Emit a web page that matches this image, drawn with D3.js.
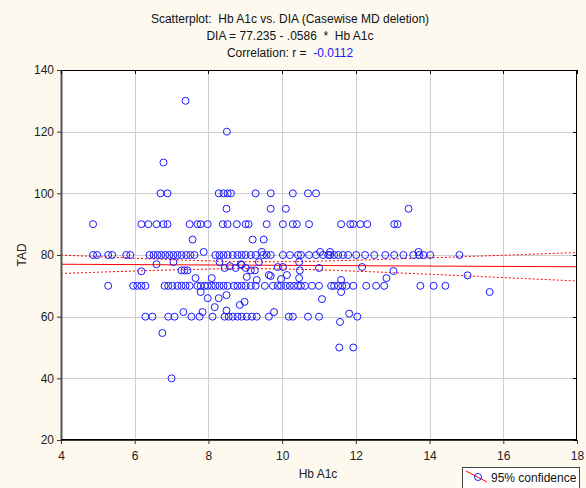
<!DOCTYPE html>
<html>
<head>
<meta charset="utf-8">
<script src="https://cdn.jsdelivr.net/npm/d3@7"></script>
<style>
  body { margin: 0; background: #fdf9ef; }
  svg { display: block; font-family: Arial, "Liberation Sans", sans-serif; }
  .pre { white-space: pre; }
</style>
</head>
<body>
<div id="chart"></div>
<script>
// Hb A1c values grouped by the TAD value they sit on
const tad130 = [7.38];
const tad120 = [8.50];
const tad110 = [6.78];
const tad100 = [6.70, 6.89, 8.28, 8.41, 8.52, 8.61, 9.28, 9.69, 10.29, 10.70, 10.92];
const tad95 = [8.49, 9.69, 10.10, 13.43];
const tad90 = [4.87, 6.18, 6.37, 6.59, 6.78, 6.89, 7.49, 7.70, 7.79, 7.98, 8.39, 8.52, 8.77, 9.01, 9.09,
  9.58, 10.02, 10.29, 10.40, 10.73, 11.60, 11.85, 11.93, 12.12, 12.31, 13.04, 13.13];
const tad85 = [7.57, 9.20, 9.50];
const tad80 = [4.87, 4.98, 5.28, 5.39, 5.77, 5.88, 6.40, 6.51, 6.62, 6.72, 6.83, 6.94, 7.05, 7.16, 7.27,
  7.40, 7.51, 7.62, 8.19, 8.30, 8.41, 8.52, 8.66, 8.79, 8.90, 9.01, 9.15, 9.28, 9.48, 9.58, 9.69, 10.02,
  10.21, 10.43, 10.51, 10.73, 10.92, 11.11, 11.25, 11.30, 11.41, 11.52, 11.65, 11.79, 12.01, 12.25, 12.50,
  12.80, 13.04, 13.29, 13.56, 13.72, 13.83, 14.02, 14.81];
const tad70 = [5.28, 5.96, 6.07, 6.18, 6.29, 6.81, 6.91, 7.02, 7.16, 7.27, 7.38, 7.49, 7.70, 7.79, 7.90,
  7.98, 8.09, 8.19, 8.30, 8.41, 8.52, 8.69, 8.79, 8.90, 9.01, 9.15, 9.28, 9.53, 9.75, 9.88, 9.97, 10.10,
  10.21, 10.32, 10.43, 10.51, 10.62, 10.81, 11.00, 11.33, 11.41, 11.52, 11.63, 11.74, 11.93, 12.28, 12.55,
  12.77, 13.75, 14.11, 14.43];
const tad60 = [6.29, 6.48, 6.91, 7.08, 7.54, 7.76, 8.11, 8.44, 8.55, 8.66, 8.79, 8.90, 9.04, 9.18, 9.31,
  9.64, 10.18, 10.29, 10.70, 11.00, 12.04];
// remaining points as [Hb A1c, TAD]
const otherPoints = [
  [7.87, 81], [9.45, 81], [11.03, 81], [11.30, 81], [13.70, 81],
  [6.59, 77], [7.05, 77.7], [6.18, 74.7], [7.27, 75], [7.35, 75], [7.43, 75], [8.30, 77.7], [8.44, 75.8],
  [8.58, 76.4], [8.74, 75.8], [8.90, 76.8], [9.01, 75.8], [9.15, 75], [9.26, 75], [9.37, 77.7], [8.88, 77],
  [9.88, 76.1], [10.02, 76.1], [10.46, 77.7], [10.48, 75], [11.00, 75.8], [12.17, 76.1], [13.02, 74.8],
  [7.65, 72.5], [8.09, 72.5], [9.04, 72.9], [9.31, 71.9], [9.64, 73.5], [9.69, 73.2], [9.97, 72.2],
  [10.13, 73.5], [10.46, 72.5], [11.60, 71.9], [12.83, 72.5], [15.03, 73.4],
  [7.79, 68], [7.98, 66], [8.28, 66], [8.49, 67], [11.60, 68], [11.08, 65.7], [15.63, 68],
  [8.17, 63.1], [8.49, 62], [8.85, 63.8], [8.98, 64.8],
  [7.32, 61.5], [7.84, 61.5], [9.78, 61.5], [11.82, 61],
  [11.57, 58.3], [6.75, 54.7], [11.55, 50], [11.93, 50], [7.00, 40]
];

const intercept = 77.235;
const slope = -0.0586;
// many cases overlap on the same spot, so the real case count is larger than the visible markers
const caseCount = 430;
const titleLines = ['Scatterplot:  Hb A1c vs. DIA (Casewise MD deletion)', 'DIA = 77.235 - .0586  *  Hb A1c'];
const corrLabel = 'Correlation: r =  ';
const corrValue = '-0.0112';
const xTicks = [4, 6, 8, 10, 12, 14, 16, 18];
const yTicks = [20, 40, 60, 80, 100, 120, 140];

const levels = [[130, tad130], [120, tad120], [110, tad110], [100, tad100], [95, tad95], [90, tad90],
  [85, tad85], [80, tad80], [70, tad70], [60, tad60]];
const points = [];
levels.forEach(([t, xs]) => xs.forEach(x => points.push([x, t])));
otherPoints.forEach(p => points.push(p));

const width = 586, height = 488;
const m = { left: 61, right: 577, top: 70, bottom: 440 };

const svg = d3.select('#chart').append('svg').attr('width', width).attr('height', height);
svg.append('rect').attr('width', width).attr('height', height).attr('fill', '#fdf9ef');

const x = d3.scaleLinear().domain([4, 18]).range([m.left, m.right]);
const y = d3.scaleLinear().domain([20, 140]).range([m.bottom, m.top]);

svg.append('rect').attr('x', m.left).attr('y', m.top)
  .attr('width', m.right - m.left).attr('height', m.bottom - m.top).attr('fill', '#fff');

// grid
const grid = svg.append('g').attr('stroke', '#cfcfcf').attr('stroke-width', 1);
xTicks.slice(1, -1).forEach(t => grid.append('line')
  .attr('x1', Math.round(x(t)) + 0.5).attr('x2', Math.round(x(t)) + 0.5).attr('y1', m.top).attr('y2', m.bottom));
yTicks.slice(1, -1).forEach(t => grid.append('line')
  .attr('y1', Math.round(y(t)) + 0.5).attr('y2', Math.round(y(t)) + 0.5).attr('x1', m.left).attr('x2', m.right));

// 95% confidence band of the fitted line
const xMean = d3.mean(points, d => d[0]);
const varX = d3.mean(points, d => (d[0] - xMean) ** 2);
const sse = d3.sum(points, d => (d[1] - (intercept + slope * d[0])) ** 2);
const se = Math.sqrt(sse / (points.length - 2));
const sxx = varX * caseCount;
const tCrit = 1.97;
const fitX = d3.range(4, 18.001, 0.1);
const half = xv => tCrit * se * Math.sqrt(1 / caseCount + (xv - xMean) ** 2 / sxx);

const plot = svg.append('g');
const line = d3.line().x(d => x(d[0])).y(d => y(d[1]));
plot.append('path').datum(fitX.map(v => [v, intercept + slope * v + half(v)])).attr('d', line)
  .attr('fill', 'none').attr('stroke', '#f00').attr('stroke-width', 1).attr('stroke-dasharray', '2,2');
plot.append('path').datum(fitX.map(v => [v, intercept + slope * v - half(v)])).attr('d', line)
  .attr('fill', 'none').attr('stroke', '#f00').attr('stroke-width', 1).attr('stroke-dasharray', '2,2');
plot.append('path').datum([[4, intercept + slope * 4], [18, intercept + slope * 18]]).attr('d', line)
  .attr('fill', 'none').attr('stroke', '#f00').attr('stroke-width', 1);

plot.selectAll('circle').data(points).enter().append('circle')
  .attr('cx', d => x(d[0])).attr('cy', d => y(d[1])).attr('r', 3.5)
  .attr('fill', 'none').attr('stroke', '#1a1aff').attr('stroke-width', 1);

// frame
svg.append('rect').attr('x', m.left + 0.5).attr('y', m.top + 0.5)
  .attr('width', m.right - m.left - 1).attr('height', m.bottom - m.top - 1)
  .attr('fill', 'none').attr('stroke', '#000').attr('stroke-width', 1);
svg.append('line').attr('x1', m.left + 0.5).attr('x2', m.left + 0.5).attr('y1', m.top).attr('y2', m.bottom + 1)
  .attr('stroke', '#555').attr('stroke-width', 2);
svg.append('line').attr('x1', m.left).attr('x2', m.right).attr('y1', m.bottom).attr('y2', m.bottom)
  .attr('stroke', '#000').attr('stroke-width', 1.5);

// axes
const xAxis = svg.append('g').attr('transform', `translate(0,${m.bottom})`)
  .call(d3.axisBottom(x).tickValues(xTicks).tickSize(4).tickPadding(7));
const yAxis = svg.append('g').attr('transform', `translate(${m.left},0)`)
  .call(d3.axisLeft(y).tickValues(yTicks).tickSize(4).tickPadding(3));
[xAxis, yAxis].forEach(a => {
  a.select('.domain').remove();
  a.selectAll('.tick line').attr('stroke', '#333');
  a.selectAll('.tick text').attr('font-size', 12).attr('fill', '#222')
    .attr('font-family', 'Arial, "Liberation Sans", sans-serif');
});
// inward ticks on right and top edges
svg.append('g').selectAll('line').data(yTicks).enter().append('line')
  .attr('x1', m.right - 4).attr('x2', m.right).attr('y1', d => Math.round(y(d)) + 0.5).attr('y2', d => Math.round(y(d)) + 0.5)
  .attr('stroke', '#000');
svg.append('g').selectAll('line').data(xTicks).enter().append('line')
  .attr('y1', m.top).attr('y2', m.top + 4).attr('x1', d => Math.round(x(d)) + 0.5).attr('x2', d => Math.round(x(d)) + 0.5)
  .attr('stroke', '#000');

// titles
const title = svg.append('g').attr('font-size', 12).attr('fill', '#111').attr('text-anchor', 'middle');
titleLines.forEach((t, i) => title.append('text').attr('class', 'pre').attr('x', 290).attr('y', 23 + i * 17).text(t));
const corr = title.append('text').attr('class', 'pre').attr('x', 290).attr('y', 57);
corr.append('tspan').text(corrLabel);
corr.append('tspan').text(corrValue).attr('fill', '#1a1aff');

svg.append('text').attr('x', 318).attr('y', 478).attr('text-anchor', 'middle')
  .attr('font-size', 12).attr('fill', '#222').text('Hb A1c');
svg.append('text').attr('transform', 'translate(26,255) rotate(-90)').attr('text-anchor', 'middle')
  .attr('font-size', 12).attr('fill', '#222').text('TAD');

// legend
const lg = svg.append('g').attr('transform', 'translate(462,467)');
lg.append('rect').attr('x', 0.5).attr('y', 0.5).attr('width', 117).attr('height', 22)
  .attr('fill', '#fff').attr('stroke', '#444');
lg.append('line').attr('x1', 4).attr('y1', 4).attr('x2', 25).attr('y2', 15).attr('stroke', '#f00');
lg.append('circle').attr('cx', 16).attr('cy', 10).attr('r', 3.5).attr('fill', 'none').attr('stroke', '#1a1aff');
lg.append('text').attr('x', 29).attr('y', 15).attr('font-size', 12).attr('fill', '#111').text('95% confidence');
</script>
</body>
</html>
